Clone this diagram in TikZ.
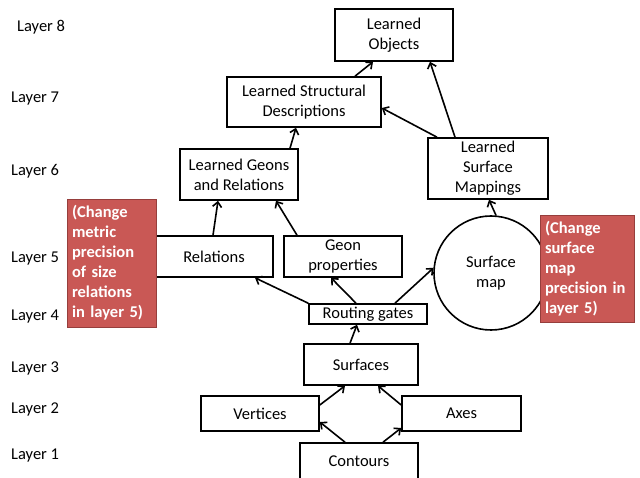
\documentclass[tikz,border=0pt]{standalone}
\usepackage{fontspec}
\setmainfont{Carlito}
\usetikzlibrary{positioning,arrows.meta}
\definecolor{notered}{RGB}{201,88,85}
\definecolor{noteedge}{RGB}{150,62,60}
\tikzset{
		>={Straight Barb[length=5pt,width=9pt]},
			box/.style={draw=black, line width=1.6pt, fill=white,
				align=center, inner sep=0pt,
				minimum width=118pt, minimum height=41pt},
			surf/.style={circle, draw=black, line width=1.6pt,
				align=center, inner sep=0pt, minimum size=114pt},
			note/.style={rectangle, draw=noteedge, line width=0.8pt,
				fill=notered, text=white, align=left, inner sep=5pt},
			layer/.style={anchor=west, inner sep=0pt},
			arr/.style={->, line width=1.6pt},
		}

\begin{document}
\fontsize{16.5}{20}\selectfont
\begin{tikzpicture}[x=1pt,y=-1pt]
				\useasboundingbox (0,0) rectangle (640,478);

				% layer labels
				\node[layer] (l8) at (17,27)  {Layer 8};
				\node[layer] (l7) at (11,99)  {Layer 7};
				\node[layer] (l6) at (11,171) {Layer 6};
				\node[layer] (l5) at (11,259) {Layer 5};
				\node[layer] (l4) at (11,317) {Layer 4};
				\node[layer] (l3) at (11,368) {Layer 3};
				\node[layer] (l2) at (11,409) {Layer 2};
				\node[layer] (l1) at (11,456) {Layer 1};

				% boxes
				\node[box, minimum height=52pt] (objects) at (394,35) {Learned\\Objects};
				\node[box, minimum width=154pt, minimum height=50pt] (structural) at (304,102) {Learned Structural\\Descriptions};
				\node[box, minimum height=51pt] (geons) at (239,174.5) {Learned Geons\\and Relations};
				\node[box, minimum width=120pt, minimum height=61pt] (mappings) at (488,168.5) {Learned\\Surface\\Mappings};
				\node[box] (relations) at (214,256.5) {Relations};
				\node[box] (geonprop) at (343,256.5) {Geon\\properties};
				\node[surf] (surfmap) at (491,273) {Surface\\map};
				\node[box, minimum height=20pt] (routing) at (368,314) {Routing gates};
				\node[box, minimum width=114pt] (surfaces) at (361,364.5) {Surfaces};
				\node[box, minimum height=35pt] (vertices) at (260,413.5) {Vertices};
				\node[box, minimum width=119pt, minimum height=35pt] (axes) at (461.5,413.5) {Axes};
				\node[box, minimum height=36pt] (contours) at (359,461) {Contours};

				% notes
				\node[note, text width=79pt, minimum height=128pt] (noteleft) at (111.5,263)
					{\bfseries (Change\\metric\\precision\\of size\\relations\\in layer 5)};
				\node[note, text width=84pt, minimum height=107pt] (noteright) at (587,268.5)
					{\bfseries (Change\\surface\\map\\precision in\\layer 5)};

				% connectors
				\draw[arr] ([xshift=51pt]structural.north) -- ([xshift=-21pt]objects.south);
				\draw[arr] ([xshift=-33pt]mappings.north) -- ([xshift=36pt]objects.south);
				\draw[arr] ([xshift=-51pt]mappings.north) -- ([yshift=-6pt]structural.east);
				\draw[arr] ([xshift=51pt]geons.north) -- ([xshift=-8pt]structural.south);
				\draw[arr] ([xshift=-1pt]relations.north) -- ([xshift=-21pt]geons.south);
				\draw[arr] ([xshift=-46pt]geonprop.north) -- ([xshift=37pt]geons.south);
				\draw[arr] (surfmap.85) -- ([xshift=1pt]mappings.south);
				\draw[arr] (routing.north west) -- ([xshift=41pt]relations.south);
				\draw[arr] ([xshift=-12pt]routing.north) -- ([xshift=-12pt]geonprop.south);
				\draw[arr] ([xshift=27pt]routing.north) -- (surfmap.175);
				\draw[arr] ([xshift=-11pt]surfaces.north) -- ([xshift=-11pt]routing.south);
				\draw[arr] ([yshift=8.5pt]vertices.east) -- ([xshift=-16pt]surfaces.south);
				\draw[arr] ([yshift=8.5pt]axes.west) -- ([xshift=17pt]surfaces.south);
				\draw[arr] ([xshift=-14pt]contours.north) -- ([yshift=-8.5pt]vertices.east);
				\draw[arr] ([xshift=24pt]contours.north) -- ([yshift=-14.5pt]axes.west);
\end{tikzpicture}
\end{document}
